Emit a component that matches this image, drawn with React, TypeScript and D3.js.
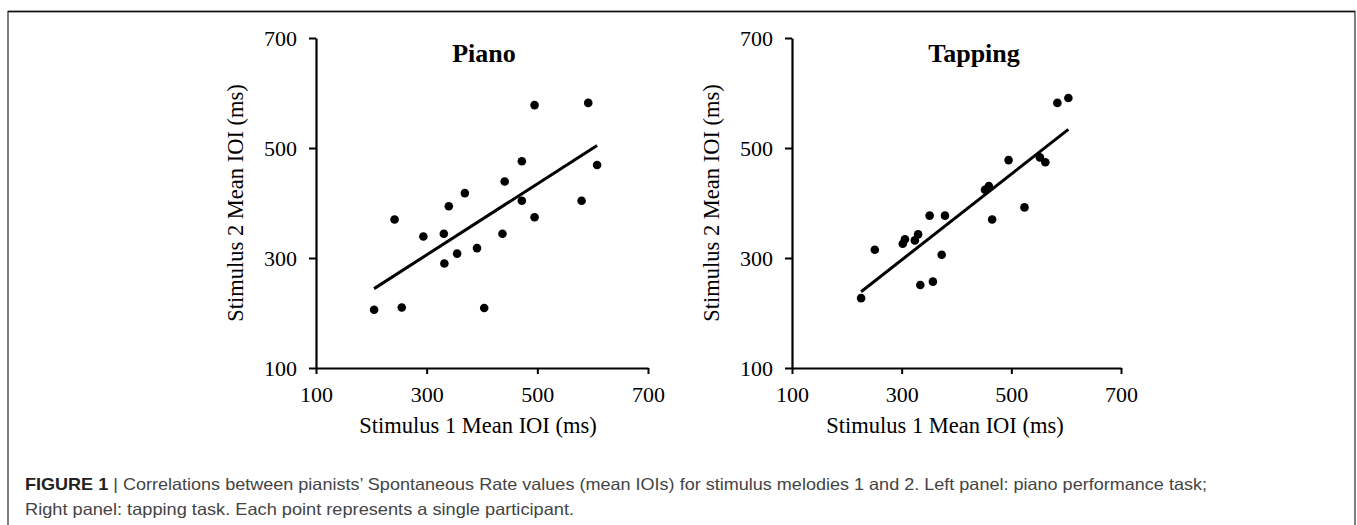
import React, { useEffect, useRef } from "react";
import * as d3 from "d3";

// axis ticks shared by both panels
const ticks = [100, 300, 500, 700];

// Piano panel: stimulus 1 vs stimulus 2 mean IOI (ms)
const pianoX = [205, 242, 255, 294, 331, 332, 340, 355, 369, 391, 404, 437, 441, 472, 472, 495, 495, 580, 592, 608];
const pianoY = [206, 370, 210, 339, 344, 290, 394, 308, 418, 318, 209, 344, 439, 476, 404, 578, 374, 404, 582, 469];

// Tapping panel
const tapX = [226, 251, 302, 306, 324, 330, 334, 351, 357, 373, 379, 452, 459, 465, 495, 524, 552, 562, 584, 604];
const tapY = [227, 315, 326, 334, 332, 343, 251, 377, 257, 306, 377, 424, 431, 370, 478, 392, 483, 474, 582, 591];

const panels = [
  { title: "Piano", xs: pianoX, ys: pianoY, left: 316, right: 648, titleX: 484, xLabelX: 478 },
  { title: "Tapping", xs: tapX, ys: tapY, left: 792, right: 1121, titleX: 974, xLabelX: 945 },
];

const captionBold = "FIGURE 1 | ";
const captionLine1 =
  "Correlations between pianists’ Spontaneous Rate values (mean IOIs) for stimulus melodies 1 and 2. Left panel: piano performance task;";
const captionLine2 = "Right panel: tapping task. Each point represents a single participant.";

const serif = "'Liberation Serif', 'Times New Roman', serif";
const sans = "'Liberation Sans', Arial, Helvetica, sans-serif";

function fitLine(xs: number[], ys: number[]) {
  const mx = d3.mean(xs) as number;
  const my = d3.mean(ys) as number;
  let sxy = 0;
  let sxx = 0;
  xs.forEach((x, i) => {
    sxy += (x - mx) * (ys[i] - my);
    sxx += (x - mx) * (x - mx);
  });
  const slope = sxy / sxx;
  return (x: number) => my + slope * (x - mx);
}

export default function App() {
  const ref = useRef<SVGSVGElement>(null);

  useEffect(() => {
    const svg = d3.select(ref.current);
    svg.selectAll("*").remove();

    const width = 1357;
    const height = 525;
    const top = 38;
    const bottom = 368;

    svg.append("rect").attr("width", width).attr("height", height).attr("fill", "#fff");

    // frame around the figure
    svg
      .append("rect")
      .attr("x", 8)
      .attr("y", 11.5)
      .attr("width", 1347)
      .attr("height", 600)
      .attr("fill", "none")
      .attr("stroke", "#555")
      .attr("stroke-width", 1.5);
    svg.append("line").attr("x1", 8).attr("x2", 1355).attr("y1", 11.5).attr("y2", 11.5).attr("stroke", "#111").attr("stroke-width", 1.5);

    const y = d3.scaleLinear().domain([100, 700]).range([bottom, top]);

    panels.forEach((p) => {
      const x = d3.scaleLinear().domain([100, 700]).range([p.left, p.right]);
      const g = svg.append("g");

      const yAxis = g
        .append("g")
        .attr("transform", `translate(${p.left},0)`)
        .call(d3.axisLeft(y).tickValues(ticks).tickSize(7).tickSizeOuter(0).tickPadding(12));
      const xAxis = g
        .append("g")
        .attr("transform", `translate(0,${bottom})`)
        .call(d3.axisBottom(x).tickValues(ticks).tickSize(6).tickSizeOuter(0).tickPadding(12));

      [yAxis, xAxis].forEach((a) => {
        a.select(".domain").attr("stroke", "#000").attr("stroke-width", 2.2);
        a.selectAll(".tick line").attr("stroke", "#000").attr("stroke-width", 2);
        a.selectAll(".tick text")
          .attr("fill", "#000")
          .style("font-family", serif)
          .style("font-size", "22px");
      });

      // regression line
      const f = fitLine(p.xs, p.ys);
      const [x0, x1] = d3.extent(p.xs) as [number, number];
      g.append("line")
        .attr("x1", x(x0))
        .attr("y1", y(f(x0)))
        .attr("x2", x(x1))
        .attr("y2", y(f(x1)))
        .attr("stroke", "#000")
        .attr("stroke-width", 3);

      g.selectAll("circle")
        .data(p.xs)
        .join("circle")
        .attr("cx", (d) => x(d))
        .attr("cy", (d, i) => y(p.ys[i]))
        .attr("r", 4.3)
        .attr("fill", "#000");

      g.append("text")
        .attr("x", p.titleX)
        .attr("y", 62)
        .attr("text-anchor", "middle")
        .style("font-family", serif)
        .style("font-size", "26px")
        .style("font-weight", "bold")
        .text(p.title);

      g.append("text")
        .attr("x", p.xLabelX)
        .attr("y", 433)
        .attr("text-anchor", "middle")
        .style("font-family", serif)
        .style("font-size", "22.5px")
        .text("Stimulus 1 Mean IOI (ms)");

      g.append("text")
        .attr("transform", `translate(${p.left - 73},${(top + bottom) / 2}) rotate(-90)`)
        .attr("text-anchor", "middle")
        .style("font-family", serif)
        .style("font-size", "22.5px")
        .text("Stimulus 2 Mean IOI (ms)");
    });

    // caption
    const cap = svg
      .append("text")
      .attr("x", 25)
      .attr("y", 490)
      .attr("textLength", 1182)
      .attr("lengthAdjust", "spacingAndGlyphs")
      .style("font-family", sans)
      .style("font-size", "16.5px")
      .attr("fill", "#444");
    cap.append("tspan").style("font-weight", "bold").attr("fill", "#222").text("FIGURE 1 ");
    cap.append("tspan").text("| " + captionLine1);

    svg
      .append("text")
      .attr("x", 25)
      .attr("y", 515)
      .attr("textLength", 549)
      .attr("lengthAdjust", "spacingAndGlyphs")
      .style("font-family", sans)
      .style("font-size", "16.5px")
      .attr("fill", "#444")
      .text(captionLine2);
  }, []);

  return (
    <svg
      ref={ref}
      width={1357}
      height={525}
      style={{ position: "absolute", left: 0, top: 0 }}
    />
  );
}
